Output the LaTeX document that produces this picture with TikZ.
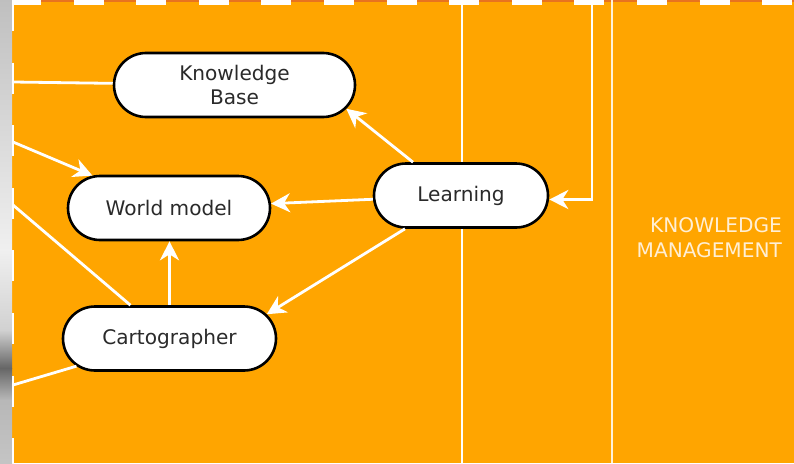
\documentclass[tikz,border=0pt]{standalone}
\usepackage{fontspec}
\setmainfont{DejaVu Sans}
\usetikzlibrary{shapes.misc,arrows.meta,calc}
\definecolor{bgorange}{HTML}{FFA500}
\definecolor{topred}{HTML}{E8731F}
\definecolor{txtgray}{HTML}{2A2A2A}
\definecolor{kmtext}{HTML}{FFEFD5}
\begin{document}
\begin{tikzpicture}[x=1pt,y=-1pt,
  box/.style={rounded rectangle, draw=black, line width=2.6pt, fill=white, inner sep=0pt,
    minimum height=64pt, text=txtgray, font=\fontsize{20.1}{24.5}\selectfont, align=center},
  conn/.style={draw=white, line width=2.8pt},
  arr/.style={conn, -{Stealth[length=19pt,width=19pt,inset=6pt]}},
  lane/.style={draw=white, line width=2.4pt},
  kmlabel/.style={text=kmtext, inner sep=0pt, font=\fontsize{20.1}{24.5}\selectfont}]
\useasboundingbox (0,0) rectangle (794,463);
% background
\fill[bgorange] (12,0) rectangle (794,463);
\fill[topred] (12,0) rectangle (794,2);
\draw[white, line width=5pt, dash pattern=on 30pt off 32.6pt] (11,2.5) -- (800,2.5);
% left grey strip
\shade[top color=black!25, bottom color=black!6] (0,0) rectangle (12,250);
\shade[top color=black!6, bottom color=black!18] (0,250) rectangle (12,330);
\shade[top color=black!18, bottom color=black!60] (0,330) rectangle (12,368);
\shade[top color=black!60, bottom color=black!28] (0,368) rectangle (12,400);
\shade[top color=black!28, bottom color=black!23] (0,400) rectangle (12,463);
\draw[white, line width=2pt, dash pattern=on 31pt off 31.6pt] (12.5,0) -- (12.5,463);
% lanes
\coordinate (l1t) at (462,0);
\coordinate (l1b) at (462,463);
\coordinate (l2t) at (612,0);
\coordinate (l2b) at (612,463);
\draw[lane] (l1t) -- (l1b);
\draw[lane, draw=white!85!bgorange] (l2t) -- (l2b);
% nodes
\node[box, minimum width=241pt] (kb) at (234.5,85) {Knowledge\\Base};
\node[box, minimum width=202pt] (wm) at (169,208) {World model};
\node[box, minimum width=174pt] (learn) at (461,195.5) {Learning};
\node[box, minimum width=213pt] (carto) at (169.5,338.5) {Cartographer};
\node[kmlabel, anchor=base east] (km1) at (782,232.7) {KNOWLEDGE};
\node[kmlabel, anchor=base east] (km2) at (782,257.7) {MANAGEMENT};
% free ends
\coordinate (e1) at (13,82);
\coordinate (e2) at (13,142);
\coordinate (e3) at (13,205);
\coordinate (e9) at (13,385);
\coordinate (e8) at (592,0);
% connectors
\draw[conn] (kb) -- (e1);
\draw[arr] (e2) -- (wm);
\draw[conn] (carto) -- (e3);
\draw[conn] (carto) -- (e9);
\draw[arr] (carto.north) -- (carto.north |- wm.south);
\draw[arr] (learn) -- (wm);
\draw[arr] ($(learn.south)+(-56,0)$) -- (carto.14);
\draw[arr] ($(learn.north)+(-48,0)$) -- (kb.348);
\draw[arr] (e8) |- ($(learn.east)+(0,4)$);
\end{tikzpicture}
\end{document}
